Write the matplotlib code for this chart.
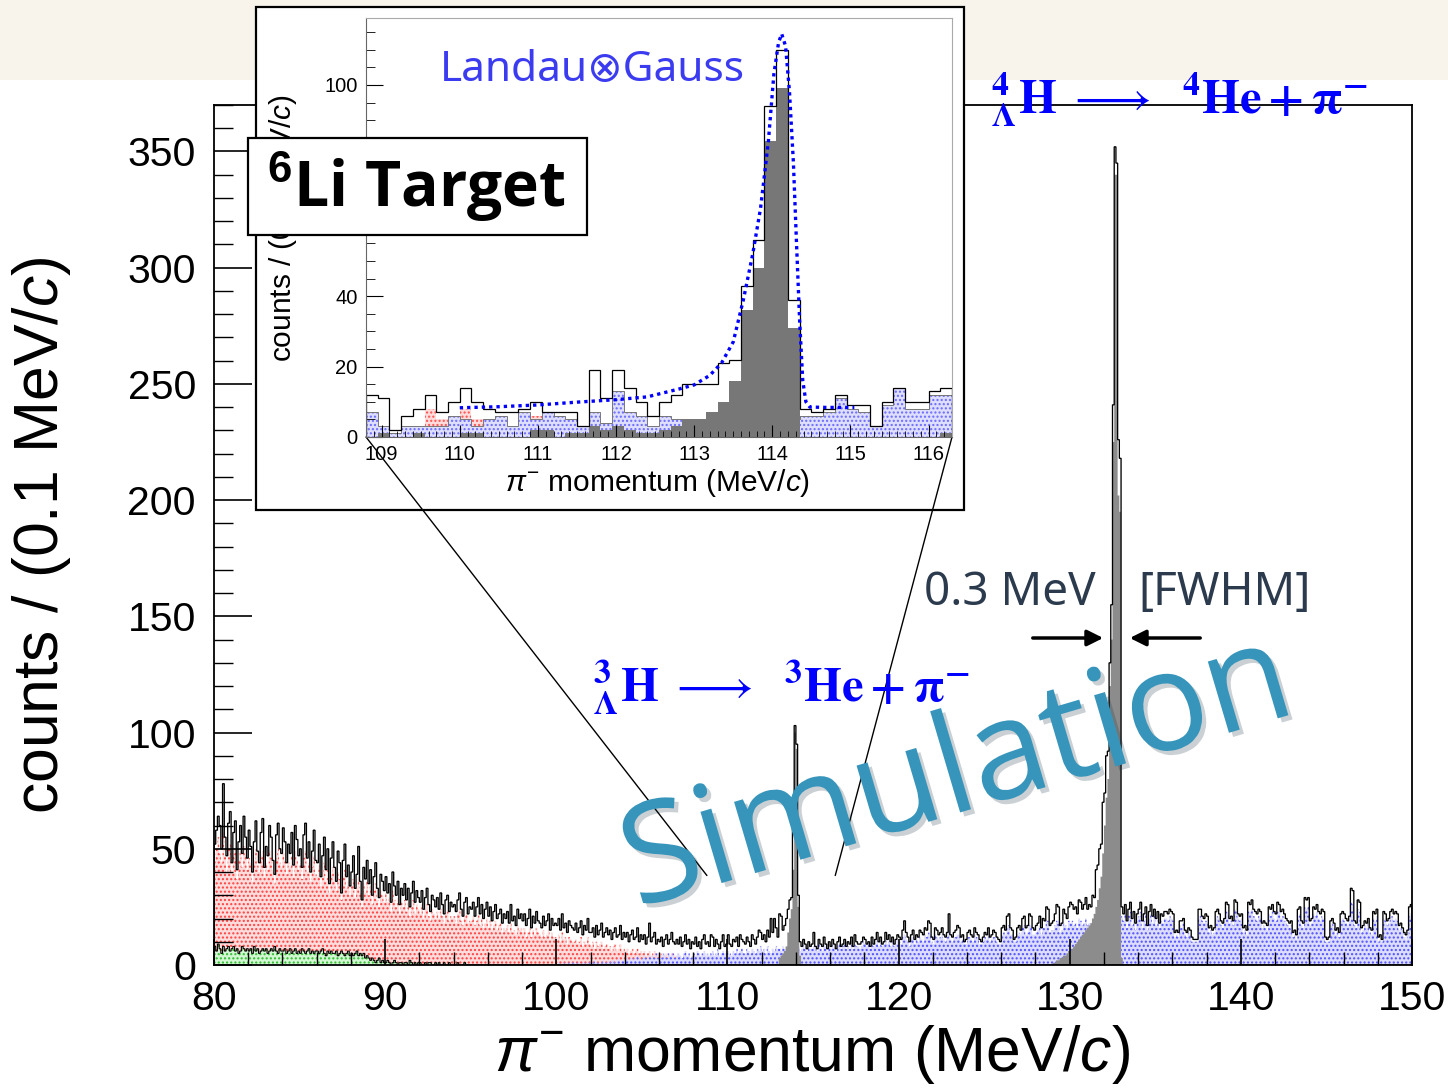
import numpy as np
import matplotlib.pyplot as plt
import matplotlib.patheffects as pe
from matplotlib.patches import Rectangle, ConnectionPatch, FancyArrowPatch
from matplotlib.ticker import MultipleLocator

plt.rcParams['font.family'] = ['Liberation Sans', 'DejaVu Sans']
plt.rcParams['mathtext.fontset'] = 'custom'
plt.rcParams['mathtext.rm'] = 'Liberation Sans'
plt.rcParams['mathtext.it'] = 'Liberation Sans:italic'
plt.rcParams['mathtext.bf'] = 'Liberation Sans:bold'
plt.rcParams['hatch.linewidth'] = 1.0

# ---- main histogram, 0.1 MeV/c bins from 80 to 150 ----
total_counts = [
    52, 58, 64, 60, 50, 78, 55, 47, 61, 66,
    44, 57, 62, 41, 53, 60, 48, 64, 55, 46,
    58, 51, 40, 53, 62, 49, 44, 57, 63, 42,
    51, 47, 60, 55, 45, 39, 56, 61, 50, 48,
    59, 53, 44, 52, 48, 57, 43, 60, 54, 47,
    50, 42, 56, 61, 46, 53, 40, 49, 58, 45,
    44, 52, 38, 47, 55, 41, 50, 35, 46, 53,
    42, 36, 49, 44, 31, 45, 52, 38, 43, 34,
    40, 47, 33, 39, 51, 36, 28, 42, 37, 45,
    35, 41, 30, 38, 44, 33, 29, 39, 36, 32,
    38, 31, 35, 27, 40, 34, 30, 36, 26, 33,
    30, 35, 28, 33, 25, 31, 36, 27, 32, 29,
    27, 32, 24, 29, 33, 26, 23, 30, 28, 25,
    29, 24, 31, 26, 22, 28, 30, 23, 27, 25,
    26, 23, 28, 31, 24, 21, 27, 29, 22, 25,
    24, 27, 21, 25, 29, 22, 26, 20, 24, 27,
    21, 25, 19, 23, 26, 20, 22, 24, 18, 22,
    20, 23, 18, 26, 19, 21, 17, 24, 20, 22,
    19, 22, 17, 20, 24, 16, 21, 18, 23, 19,
    18, 16, 21, 17, 19, 22, 15, 20, 17, 18,
    17, 20, 15, 22, 16, 18, 14, 19, 17, 16,
    15, 18, 14, 16, 19, 13, 17, 15, 20, 14,
    14, 16, 12, 17, 13, 15, 18, 12, 14, 16,
    13, 15, 11, 14, 16, 12, 13, 17, 11, 14,
    12, 14, 10, 13, 15, 11, 12, 16, 10, 13,
    11, 13, 9, 12, 18, 10, 12, 14, 9, 11,
    10, 12, 8, 11, 13, 9, 11, 14, 10, 9,
    11, 9, 12, 8, 10, 13, 9, 11, 7, 10,
    9, 12, 8, 10, 7, 11, 13, 9, 10, 8,
    13, 12, 8, 11, 9, 7, 10, 13, 8, 9,
    13, 9, 8, 11, 10, 12, 8, 13, 11, 10,
    9, 12, 10, 8, 13, 11, 9, 12, 15, 14,
    11, 13, 10, 15, 12, 20, 14, 20, 16, 12,
    22, 21, 15, 17, 20, 24, 28, 29, 59, 103,
    95, 30, 10, 8, 11, 9, 7, 10, 8, 9,
    14, 8, 7, 11, 9, 8, 12, 9, 7, 10,
    8, 11, 9, 7, 10, 12, 8, 9, 11, 8,
    10, 9, 12, 8, 13, 10, 9, 9, 10, 12,
    11, 9, 10, 8, 12, 9, 11, 14, 10, 12,
    9, 10, 14, 11, 13, 10, 12, 9, 11, 13,
    12, 11, 15, 19, 14, 12, 10, 13, 15, 11,
    13, 12, 15, 14, 13, 16, 15, 19, 18, 12,
    11, 16, 15, 13, 14, 16, 13, 12, 14, 22,
    13, 12, 14, 15, 17, 16, 12, 13, 10, 11,
    14, 15, 13, 12, 16, 14, 13, 11, 10, 12,
    14, 13, 16, 12, 13, 15, 14, 12, 11, 10,
    16, 17, 15, 21, 22, 16, 15, 11, 12, 16,
    17, 15, 20, 21, 16, 17, 22, 21, 16, 15,
    17, 18, 21, 16, 20, 19, 25, 24, 17, 18,
    19, 22, 26, 25, 17, 18, 24, 22, 20, 25,
    27, 26, 24, 25, 22, 28, 27, 24, 26, 29,
    24, 26, 25, 30, 29, 41, 43, 50, 52, 70,
    74, 90, 92, 130, 155, 241, 352, 345, 226, 218,
    25, 22, 26, 19, 24, 27, 20, 23, 18, 22,
    24, 27, 19, 22, 25, 17, 23, 26, 21, 24,
    20, 23, 18, 22, 21, 23, 23, 22, 24, 23,
    22, 14, 15, 14, 19, 19, 20, 15, 14, 16,
    15, 12, 11, 11, 11, 24, 24, 21, 20, 22,
    21, 16, 17, 15, 16, 23, 24, 22, 19, 18,
    20, 27, 26, 20, 21, 19, 28, 27, 22, 21,
    22, 16, 17, 15, 27, 26, 28, 24, 23, 22,
    24, 23, 18, 19, 18, 17, 25, 24, 26, 23,
    22, 27, 26, 23, 24, 22, 20, 19, 18, 19,
    14, 15, 13, 24, 25, 19, 18, 29, 28, 29,
    19, 20, 25, 24, 26, 23, 22, 24, 23, 12,
    11, 12, 19, 20, 18, 15, 16, 14, 22, 23,
    22, 20, 19, 21, 33, 32, 19, 18, 28, 27,
    16, 17, 19, 18, 20, 16, 15, 23, 22, 24,
    12, 13, 11, 23, 22, 19, 20, 23, 24, 22,
    23, 22, 17, 18, 16, 14, 13, 15, 25, 26,
]

# red component, 80.0 - 111.9
red_counts = [
    45, 50, 55, 48, 44, 57, 47, 40, 50, 52,
    40, 48, 50, 37, 45, 49, 42, 51, 47, 41,
    46, 44, 36, 45, 50, 43, 40, 47, 49, 38,
    44, 41, 49, 46, 40, 35, 46, 50, 44, 42,
    48, 45, 39, 44, 42, 47, 38, 49, 45, 41,
    43, 37, 46, 49, 40, 44, 36, 42, 47, 39,
    38, 43, 34, 40, 44, 36, 41, 31, 39, 42,
    36, 32, 40, 37, 28, 38, 41, 33, 36, 30,
    34, 37, 29, 33, 38, 31, 25, 35, 31, 36,
    30, 34, 26, 32, 35, 28, 25, 32, 30, 27,
    31, 27, 29, 23, 32, 28, 25, 29, 22, 27,
    25, 28, 23, 27, 21, 25, 28, 22, 26, 24,
    22, 26, 20, 24, 26, 21, 19, 24, 22, 20,
    23, 20, 24, 21, 18, 22, 23, 19, 21, 20,
    21, 18, 22, 24, 19, 17, 21, 22, 18, 19,
    19, 21, 17, 19, 22, 17, 20, 16, 18, 20,
    16, 19, 15, 17, 19, 15, 17, 18, 14, 16,
    15, 17, 14, 18, 14, 15, 13, 17, 15, 16,
    14, 16, 12, 14, 16, 12, 15, 13, 16, 14,
    13, 12, 15, 12, 13, 15, 11, 14, 12, 12,
    11, 13, 10, 14, 11, 12, 9, 12, 11, 10,
    10, 11, 9, 10, 12, 8, 10, 9, 12, 9,
    8, 10, 7, 10, 8, 9, 10, 7, 8, 9,
    7, 8, 6, 8, 9, 6, 7, 9, 6, 7,
    6, 7, 5, 6, 7, 5, 6, 7, 5, 6,
    5, 6, 4, 5, 6, 4, 5, 6, 4, 5,
    4, 5, 3, 4, 5, 3, 4, 5, 3, 4,
    3, 4, 3, 3, 4, 2, 3, 4, 2, 3,
    3, 2, 3, 2, 3, 2, 2, 3, 2, 2,
    2, 2, 1, 2, 2, 1, 2, 1, 2, 1,
    1, 2, 1, 1, 2, 1, 1, 1, 0, 1,
    1, 0, 1, 1, 0, 1, 0, 1, 0, 0,
]

# green component, 80.0 - 94.9
green_counts = [
    8, 6, 9, 7, 5, 8, 6, 7, 8, 6,
    7, 8, 6, 7, 5, 6, 8, 7, 6, 7,
    6, 7, 5, 8, 6, 7, 5, 6, 7, 6,
    7, 5, 6, 7, 6, 8, 6, 5, 7, 6,
    6, 7, 5, 6, 7, 5, 6, 7, 5, 6,
    5, 7, 6, 5, 6, 7, 5, 6, 5, 6,
    6, 5, 6, 7, 5, 4, 6, 5, 6, 5,
    5, 6, 4, 5, 6, 5, 4, 5, 6, 4,
    5, 4, 5, 6, 4, 5, 4, 5, 3, 4,
    3, 2, 3, 2, 1, 2, 3, 1, 2, 1,
    1, 2, 1, 0, 1, 2, 1, 0, 1, 1,
    0, 1, 1, 0, 2, 1, 0, 1, 0, 1,
    1, 0, 0, 1, 0, 1, 1, 0, 0, 1,
    0, 1, 0, 0, 1, 0, 0, 1, 0, 0,
    0, 0, 1, 0, 0, 0, 1, 0, 0, 0,
]

# blue component, 100.0 - 149.9
blue_counts = [
    0, 1, 0, 0, 1, 0, 0, 1, 0, 1,
    1, 0, 1, 1, 0, 1, 1, 0, 1, 1,
    1, 1, 2, 1, 1, 0, 1, 2, 1, 1,
    2, 1, 2, 2, 1, 2, 3, 1, 2, 2,
    2, 3, 2, 3, 2, 3, 2, 4, 3, 2,
    3, 4, 3, 2, 4, 3, 4, 3, 5, 3,
    4, 3, 5, 4, 3, 5, 4, 4, 5, 3,
    4, 5, 4, 3, 5, 6, 4, 5, 3, 4,
    5, 4, 6, 5, 4, 5, 6, 4, 5, 4,
    5, 6, 4, 5, 7, 4, 5, 6, 5, 6,
    6, 5, 4, 6, 5, 7, 5, 6, 7, 5,
    5, 7, 6, 5, 7, 6, 5, 7, 6, 8,
    6, 7, 5, 8, 6, 5, 7, 6, 8, 7,
    7, 6, 8, 7, 6, 8, 7, 6, 7, 8,
    7, 8, 6, 7, 9, 7, 6, 8, 7, 7,
    8, 7, 6, 9, 7, 6, 9, 8, 6, 8,
    7, 9, 7, 6, 8, 9, 7, 8, 9, 7,
    8, 7, 9, 7, 9, 8, 8, 7, 8, 10,
    9, 8, 9, 7, 10, 8, 9, 11, 8, 10,
    8, 9, 11, 9, 10, 8, 10, 8, 9, 11,
    10, 9, 12, 13, 11, 10, 8, 11, 12, 9,
    11, 10, 12, 11, 10, 13, 12, 14, 13, 10,
    9, 13, 12, 11, 12, 13, 11, 10, 12, 15,
    11, 10, 12, 12, 13, 13, 10, 11, 9, 9,
    12, 12, 11, 10, 13, 12, 11, 9, 9, 10,
    12, 11, 13, 10, 11, 12, 12, 10, 9, 9,
    13, 14, 13, 16, 17, 13, 13, 10, 10, 13,
    14, 13, 16, 17, 13, 14, 17, 17, 13, 13,
    14, 15, 17, 13, 16, 16, 19, 19, 14, 15,
    15, 17, 19, 19, 14, 15, 18, 17, 16, 19,
    18, 19, 17, 18, 16, 20, 19, 17, 18, 20,
    17, 18, 17, 19, 18, 18, 19, 18, 19, 17,
    18, 19, 18, 17, 19, 18, 17, 18, 19, 18,
    21, 19, 22, 16, 21, 23, 17, 20, 15, 19,
    21, 23, 16, 19, 22, 15, 20, 22, 18, 21,
    17, 20, 16, 19, 18, 20, 20, 19, 21, 20,
    19, 12, 13, 12, 17, 16, 18, 13, 12, 14,
    13, 10, 10, 10, 10, 20, 21, 19, 18, 19,
    18, 14, 15, 13, 14, 20, 21, 19, 17, 16,
    18, 23, 22, 18, 19, 17, 24, 23, 20, 19,
    20, 14, 15, 13, 23, 23, 24, 21, 20, 19,
    21, 20, 16, 17, 16, 15, 22, 21, 23, 20,
    19, 23, 23, 20, 21, 19, 18, 17, 16, 17,
    12, 13, 11, 21, 22, 17, 16, 25, 24, 25,
    17, 18, 22, 21, 23, 20, 19, 21, 20, 10,
    10, 10, 17, 18, 16, 13, 14, 12, 19, 20,
    19, 18, 17, 19, 27, 26, 17, 16, 24, 23,
    14, 15, 17, 16, 18, 14, 13, 20, 19, 21,
    10, 11, 10, 20, 19, 17, 18, 20, 21, 19,
    20, 19, 15, 16, 14, 12, 11, 13, 21, 22,
]

# hypernuclear decay peaks (gray)
sig3_start = 113.0
sig3_counts = [3, 4, 5, 6, 8, 14, 20, 24, 41, 100, 93, 25, 4]
sig4_start = 129.0
sig4_counts = [1, 1, 2, 2, 3, 3, 4, 4, 5, 6,
               6, 7, 8, 9, 10, 11, 12, 13, 14, 15,
               16, 17, 18, 20, 22, 25, 28, 33, 38, 48,
               60, 72, 80, 120, 140, 225, 340, 340, 202, 195, 3]

# ---- inset, 0.15 MeV/c bins from 108.8 to 116.3 ----
in_total = [12, 11, 2, 6, 8, 12, 7, 10, 14, 10,
            8, 7, 7, 8, 10, 7, 7, 7, 3, 19,
            11, 19, 14, 10, 6, 10, 12, 15, 15, 15,
            21, 22, 43, 56, 94, 110, 39, 8, 7, 8,
            12, 9, 9, 3, 10, 14, 10, 10, 13, 14]
in_blue = [7, 3, 1, 3, 3, 3, 3, 6, 5, 3,
           5, 6, 3, 7, 5, 7, 6, 5, 3, 7,
           4, 13, 7, 6, 3, 6, 5, 4, 5, 4,
           5, 4, 4, 3, 3, 4, 5, 6, 6, 7,
           11, 8, 7, 3, 9, 14, 8, 8, 12, 12]
in_red = [0, 0, 0, 0, 2, 8, 5, 2, 8, 5,
          2, 1, 0, 0, 6, 2, 1, 0, 0, 2,
          1, 0, 0, 0, 0, 0, 0, 0, 0, 0,
          0, 0, 0, 0, 0, 0, 0, 0, 0, 0,
          0, 0, 0, 0, 0, 0, 0, 0, 0, 0]
in_sig = [0, 1, 0, 0, 1, 0, 0, 0, 1, 1,
          0, 0, 0, 0, 2, 2, 0, 1, 1, 3,
          2, 3, 2, 1, 1, 2, 3, 5, 5, 7,
          10, 16, 36, 48, 84, 99, 31, 0, 0, 0,
          0, 0, 0, 0, 0, 0, 0, 0, 0, 1]

# Landau x Gauss fit curve
fit_x = [110.0, 110.5, 111.0, 111.5, 112.0, 112.4, 112.8, 113.0, 113.2, 113.35,
         113.5, 113.63, 113.75, 113.85, 113.95, 114.02, 114.08, 114.12, 114.17, 114.22,
         114.27, 114.31, 114.35, 114.39, 114.43, 114.48, 114.7, 115.05]
fit_y = [8.3, 8.6, 9.1, 9.9, 10.6, 11.4, 13.6, 14.8, 17.5, 21,
         27, 39, 52, 65, 84, 103, 112, 114.5, 111, 98,
         78, 55, 33, 16, 10, 8.5, 8.4, 8.4]

W, H = 1448, 1090


def fx(px):
    return px / W


def fy(py):
    return 1 - py / H


def place(vals, start, lo=80.0, width=0.1, n=700):
    arr = np.zeros(n)
    i = int(round((start - lo) / width))
    arr[i:i + len(vals)] = vals
    return arr


def dotted_fill(axis, vals, edges, face, dots):
    # ROOT-like dotted fill: pale face with fine coloured dots
    axis.stairs(vals, edges, fill=True, facecolor=face, edgecolor=dots,
                hatch='....', lw=0)


fig = plt.figure(figsize=(W / 100, H / 100), dpi=100)
fig.add_artist(Rectangle((0, fy(80)), 1, 80 / H, transform=fig.transFigure,
                         facecolor='#f8f4ec', edgecolor='none', zorder=-1))

# main axes
ax = fig.add_axes([fx(214), fy(965), (1412 - 214) / W, (965 - 105) / H], zorder=0)
edges = np.round(80 + 0.1 * np.arange(701), 2)
total = np.array(total_counts, dtype=float)
red = np.minimum(place(red_counts, 80.0), total)
green = np.minimum(place(green_counts, 80.0), total)
blue = np.minimum(place(blue_counts, 100.0), total)
sig = place(sig3_counts, sig3_start) + place(sig4_counts, sig4_start)

dotted_fill(ax, red, edges, '#ffdcdc', '#ff4040')
dotted_fill(ax, green, edges, '#d4f6d4', '#2cc02c')
dotted_fill(ax, blue, edges, '#dcdcff', '#5050ff')
ax.stairs(sig, edges, fill=True, color='#8c8c8c', lw=0)
ax.stairs(green, edges, color='black', lw=0.8)
ax.stairs(total, edges, color='black', lw=0.95)

ax.set_xlim(80, 150)
ax.set_ylim(0, 370)
ax.xaxis.set_major_locator(MultipleLocator(10))
ax.xaxis.set_minor_locator(MultipleLocator(2))
ax.yaxis.set_major_locator(MultipleLocator(50))
ax.yaxis.set_minor_locator(MultipleLocator(10))
ax.tick_params(axis='both', which='both', direction='in', labelsize=29.5)
ax.tick_params(axis='x', which='major', length=19, width=1.2, pad=11)
ax.tick_params(axis='x', which='minor', length=9.5, width=1.0)
ax.tick_params(axis='y', which='major', length=27, width=1.2, pad=13)
ax.tick_params(axis='y', which='minor', length=14, width=1.0)
for s in ax.spines.values():
    s.set_linewidth(1.3)

fig.text(fx(42), fy(535), 'counts / (0.1 MeV/$c$)', rotation=90,
         ha='center', va='center', fontsize=45)
fig.text(fx(812), fy(1055), r'$\pi^{-}$ momentum (MeV/$c$)',
         ha='center', va='center', fontsize=45)

# inset frame and axes
fig.add_artist(Rectangle((fx(256), fy(510)), (964 - 256) / W, (510 - 7) / H,
                         transform=fig.transFigure, facecolor='white',
                         edgecolor='black', lw=1.6, zorder=0.5))
axi = fig.add_axes([fx(366), fy(437), (952 - 366) / W, (437 - 18) / H], zorder=1)
iedges = np.round(108.8 + 0.15 * np.arange(51), 3)
dotted_fill(axi, in_red, iedges, '#ffdcdc', '#ff5050')
dotted_fill(axi, in_blue, iedges, '#dedeff', '#6a6aff')
axi.stairs(in_blue, iedges, color='#777777', lw=0.7)
axi.stairs(in_sig, iedges, fill=True, color='#777777', lw=0)
axi.stairs(in_total, iedges, color='black', lw=0.9)
axi.plot(fit_x, fit_y, color='#0000ff', lw=2.4, linestyle=(0, (1, 1.2)))
axi.set_xlim(108.8, 116.3)
axi.set_ylim(0, 119)
axi.xaxis.set_major_locator(MultipleLocator(1))
axi.xaxis.set_minor_locator(MultipleLocator(0.1))
axi.yaxis.set_major_locator(MultipleLocator(20))
axi.yaxis.set_minor_locator(MultipleLocator(5))
axi.tick_params(axis='both', which='both', direction='in', labelsize=14.5)
axi.tick_params(axis='x', which='major', length=8.5, pad=6)
axi.tick_params(axis='x', which='minor', length=4)
axi.tick_params(axis='y', which='major', length=12, pad=6)
axi.tick_params(axis='y', which='minor', length=6.5)
for k in ['left', 'bottom']:
    axi.spines[k].set_color('#666666')
for k in ['top', 'right']:
    axi.spines[k].set_color('#aaaaaa')
fig.text(fx(283), fy(228), 'counts / (0.1 MeV/$c$)', rotation=90,
         ha='center', va='center', fontsize=21.5, zorder=2)
fig.text(fx(658), fy(483), r'$\pi^{-}$ momentum (MeV/$c$)',
         ha='center', va='center', fontsize=21.5, zorder=2)
fig.text(fx(592), fy(70), 'Landau\u2297Gauss', ha='center', va='center',
         fontsize=30.5, color='#3b3bf0', family=['Noto Sans', 'DejaVu Sans'], zorder=2)

# zoom lines from inset corners down to the main axes
for xa, xb in [(0, 108.8), (1, 116.3)]:
    con = ConnectionPatch(xyA=(xa, 0), coordsA='axes fraction', axesA=axi,
                          xyB=(xb, 38.5), coordsB='data', axesB=ax,
                          color='black', lw=1.0, zorder=0.7)
    fig.add_artist(con)

# target label box
fig.add_artist(Rectangle((fx(248), fy(235)), (587 - 248) / W, (235 - 138) / H,
                         transform=fig.transFigure, facecolor='white',
                         edgecolor='black', lw=1.6, zorder=4))
fig.text(fx(416), fy(187), r'$^{\mathbf{6}}$Li Target', ha='center', va='center',
         fontsize=45, fontweight='bold', family=['Open Sans', 'DejaVu Sans'], zorder=4.5)

# decay labels
fig.text(fx(1180), fy(100),
         r'$\mathbf{{}^{4}_{\Lambda}H}\ \longrightarrow\ \ \mathbf{{}^{4}He+\pi^{-}}$',
         ha='center', va='center', fontsize=35, color='#0000ff',
         math_fontfamily='stix', zorder=5)
fig.text(fx(782), fy(688),
         r'$\mathbf{{}^{3}_{\Lambda}H}\ \longrightarrow\ \ \mathbf{{}^{3}He+\pi^{-}}$',
         ha='center', va='center', fontsize=35, color='#0000ff',
         math_fontfamily='stix', zorder=5)

# FWHM annotation
fig.text(fx(1010), fy(593), '0.3 MeV', ha='center', va='center', fontsize=33,
         color='#2b3a4c', family=['Noto Sans', 'DejaVu Sans'], zorder=5)
fig.text(fx(1225), fy(593), '[FWHM]', ha='center', va='center', fontsize=33,
         color='#2b3a4c', family=['Noto Sans', 'DejaVu Sans'], zorder=5)
for a, b in [(1030, 1106), (1203, 1127)]:
    fig.add_artist(FancyArrowPatch((fx(a), fy(638)), (fx(b), fy(638)),
                                   transform=fig.transFigure, arrowstyle='-|>',
                                   mutation_scale=24, lw=2.5, color='black', zorder=5))

# watermark
fig.text(fx(958), fy(775), 'Simulation', rotation=16.5, ha='center', va='center',
         fontsize=100, color='#3795bb', family=['Open Sans', 'DejaVu Sans'], zorder=10,
         path_effects=[pe.SimplePatchShadow(offset=(3, -3), alpha=0.22), pe.Normal()])

fig.savefig('out.png', dpi=100)
